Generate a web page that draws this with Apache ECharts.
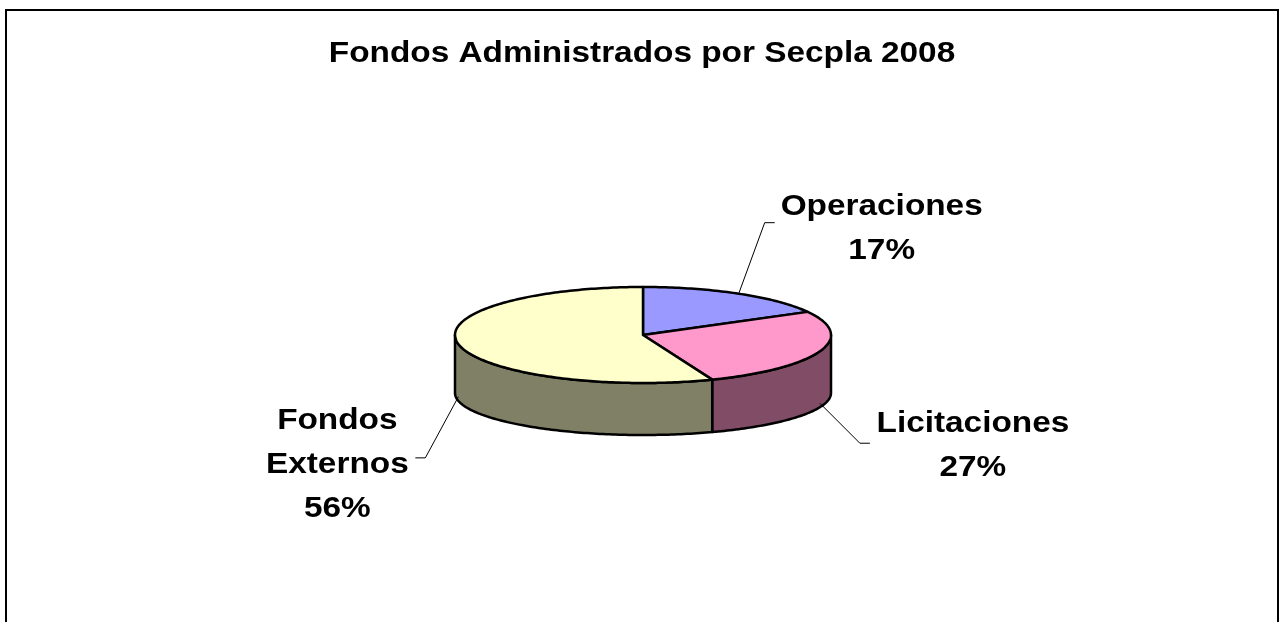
<!DOCTYPE html>
<html>
<head>
<meta charset="utf-8">
<script src="https://cdn.jsdelivr.net/npm/echarts@6/dist/echarts.min.js"></script>
<style>
  html, body { margin: 0; padding: 0; background: #fff; }
  #chart { width: 1284px; height: 622px; }
</style>
</head>
<body>
<div id="chart"></div>
<script>
// data
var title = 'Fondos Administrados por Secpla 2008';
var categories = ['Operaciones', 'Licitaciones', 'Fondos Externos'];
var values = [17, 27, 56];

// look
var topColors = ['#9999FF', '#FF99CC', '#FFFFCC'];
var sideColors = ['#4D4D80', '#804C66', '#808066'];
var FONT = '"Liberation Sans", Arial, sans-serif';
var cx = 643, cy = 335, rx = 188, ry = 48;   // top ellipse
var botCy = 393, botRy = 42;                 // bottom ellipse (a bit flatter)
var leader = [[26, -71], [40, 40], [-33, 61]];     // anchor -> elbow
var labelOffset = [[117, 6], [113, 3], [-88, 7]];   // elbow -> label centre
var stretch = 1.15;                                 // text is drawn wide in the original

var total = values.reduce(function (a, b) { return a + b; }, 0);
var starts = [];
var acc = 0;
values.forEach(function (v) { starts.push(acc / total * 360); acc += v; });

function topPt(deg) {
  var r = deg * Math.PI / 180;
  return [cx + rx * Math.sin(r), cy - ry * Math.cos(r)];
}
function botPt(deg) {
  var r = deg * Math.PI / 180;
  return [cx + rx * Math.sin(r), botCy - botRy * Math.cos(r)];
}
function arc(fn, a, b) {
  var n = Math.max(2, Math.ceil(b - a));
  var pts = [];
  for (var k = 0; k <= n; k++) pts.push(fn(a + (b - a) * k / n));
  return pts;
}

function renderItem(params, api) {
  var i = params.dataIndex;
  var v = api.value(0);
  var a = starts[i];
  var b = a + v / total * 360;
  var children = [];

  // visible side wall (front half only)
  var fa = Math.max(a, 90), fb = Math.min(b, 270);
  if (fb > fa) {
    children.push({
      type: 'polygon',
      shape: { points: arc(topPt, fa, fb).concat(arc(botPt, fa, fb).reverse()) },
      style: { fill: sideColors[i], stroke: '#000', lineWidth: 2.5, lineJoin: 'round' }
    });
  }
  // top face
  children.push({
    type: 'polygon',
    shape: { points: [[cx, cy]].concat(arc(topPt, a, b)) },
    style: { fill: topColors[i], stroke: '#000', lineWidth: 2.5, lineJoin: 'round' }
  });

  // leader line + label
  var mid = (a + b) / 2;
  var front = mid > 90 && mid < 270;
  var anchor = front ? botPt(mid) : topPt(mid);
  if (front) anchor[1] -= 4;
  var elbow = [anchor[0] + leader[i][0], anchor[1] + leader[i][1]];
  var dir = leader[i][0] >= 0 ? 1 : -1;
  var end = [elbow[0] + 10 * dir, elbow[1]];
  children.push({
    type: 'polyline',
    shape: { points: [anchor, elbow, end] },
    style: { stroke: '#000', lineWidth: 1, fill: null }
  });
  var pct = Math.round(v / total * 100) + '%';
  children.push({
    type: 'text',
    x: elbow[0] + labelOffset[i][0],
    y: elbow[1] + labelOffset[i][1],
    scaleX: stretch,
    style: {
      text: categories[i].split(' ').join('\n') + '\n' + pct,
      fill: '#000',
      fontSize: 29,
      fontWeight: 'bold',
      fontFamily: FONT,
      lineHeight: 44,
      align: 'center',
      verticalAlign: 'middle'
    }
  });

  return { type: 'group', children: children };
}

var chart = echarts.init(document.getElementById('chart'));
chart.setOption({
  animation: false,
  backgroundColor: '#fff',
  graphic: [
    {
      type: 'rect',
      shape: { x: 6, y: 10, width: 1272, height: 700 },
      style: { fill: 'rgba(0,0,0,0)', stroke: '#000', lineWidth: 2 },
      silent: true
    },
    {
      type: 'text',
      x: 642,
      y: 54,
      scaleX: stretch,
      style: {
        text: title,
        fill: '#000',
        fontSize: 29,
        fontWeight: 'bold',
        fontFamily: FONT,
        align: 'center',
        verticalAlign: 'middle'
      },
      silent: true
    }
  ],
  series: [{
    type: 'custom',
    coordinateSystem: 'none',
    silent: true,
    renderItem: renderItem,
    data: values.map(function (v, i) { return { name: categories[i], value: [v] }; })
  }]
});
</script>
</body>
</html>
